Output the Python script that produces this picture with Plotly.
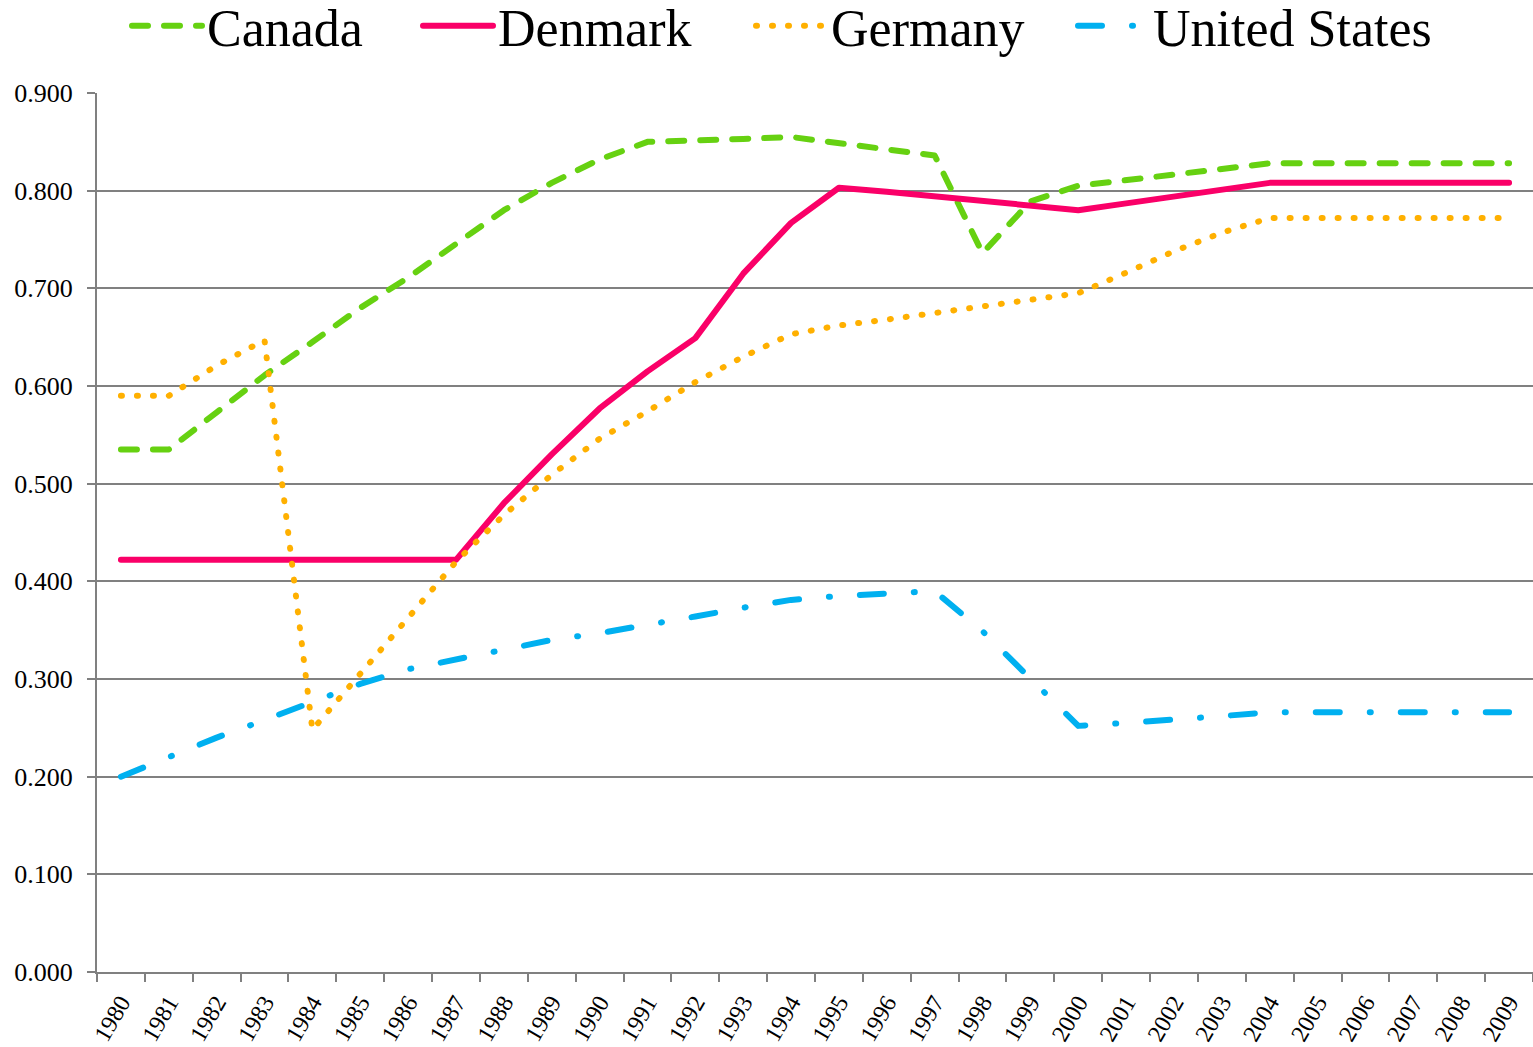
import plotly.graph_objects as go

years = ["1980", "1981", "1982", "1983", "1984", "1985", "1986", "1987", "1988", "1989",
         "1990", "1991", "1992", "1993", "1994", "1995", "1996", "1997", "1998", "1999",
         "2000", "2001", "2002", "2003", "2004", "2005", "2006", "2007", "2008", "2009"]

canada = [0.535, 0.535, 0.573, 0.611, 0.645, 0.680, 0.711, 0.746, 0.780, 0.808,
          0.832, 0.850, 0.851, 0.853, 0.855, 0.849, 0.843, 0.836, 0.736, 0.789,
          0.805, 0.811, 0.817, 0.823, 0.828, 0.828, 0.828, 0.828, 0.828, 0.828]

denmark = [0.422, 0.422, 0.422, 0.422, 0.422, 0.422, 0.422, 0.422, 0.480, 0.530,
           0.577, 0.615, 0.649, 0.715, 0.767, 0.803, 0.799, 0.794, 0.790, 0.785,
           0.780, 0.787, 0.794, 0.801, 0.808, 0.808, 0.808, 0.808, 0.808, 0.808]

germany = [0.590, 0.590, 0.621, 0.647, 0.248, 0.305, 0.362, 0.420, 0.468, 0.509,
           0.546, 0.574, 0.604, 0.630, 0.653, 0.662, 0.668, 0.675, 0.682, 0.689,
           0.695, 0.716, 0.738, 0.757, 0.772, 0.772, 0.772, 0.772, 0.772, 0.772]

united_states = [0.200, 0.220, 0.240, 0.258, 0.277, 0.295, 0.310, 0.320, 0.331, 0.340,
                 0.347, 0.355, 0.364, 0.373, 0.381, 0.385, 0.388, 0.390, 0.349, 0.301,
                 0.252, 0.255, 0.258, 0.262, 0.266, 0.266, 0.266, 0.266, 0.266, 0.266]

series = [
    ("Canada", canada, "#66D111", "16px,16px", "legend"),
    ("Denmark", denmark, "#FA0068", "solid", "legend2"),
    ("Germany", germany, "#FFB000", "1px,15px", "legend3"),
    ("United States", united_states, "#00B0F0", "24px,30px,1px,30px", "legend4"),
]

fig = go.Figure()
for name, vals, color, dash, leg in series:
    fig.add_trace(go.Scatter(
        x=years, y=vals, name=name, mode="lines",
        line=dict(color=color, width=6, dash=dash),
        legend=leg,
    ))

FONT = "Liberation Serif"
W, H = 1533, 1047
ML, MR, MT, MB = 97, 0, 93, 75
pw = W - ML - MR
ph = H - MT - MB

def lx(px):
    return (px - ML) / pw

ly = 1 + (MT - 26) / ph

legend_common = dict(
    orientation="h", xanchor="left", yanchor="middle", y=ly,
    font=dict(family=FONT, size=52, color="black"),
    itemwidth=70, bgcolor="rgba(0,0,0,0)", borderwidth=0,
)

fig.update_layout(
    width=W, height=H,
    margin=dict(l=ML, r=MR, t=MT, b=MB, pad=0, autoexpand=False),
    paper_bgcolor="white", plot_bgcolor="white",
    font=dict(family=FONT, color="black"),
    showlegend=True,
    legend=dict(x=lx(127), **legend_common),
    legend2=dict(x=lx(418), **legend_common),
    legend3=dict(x=lx(751), **legend_common),
    legend4=dict(x=lx(1073), **legend_common),
    xaxis=dict(
        type="category", range=[-0.5, 29.5],
        showline=True, linecolor="#808080", linewidth=2,
        ticks="outside", tickson="boundaries", ticklen=8, tickwidth=2, tickcolor="#808080",
        tickangle=-60, tickfont=dict(family=FONT, size=24, color="black"),
        ticklabelstandoff=5,
        showgrid=False, zeroline=False, fixedrange=True, automargin=False,
    ),
    yaxis=dict(
        range=[0, 0.9], dtick=0.1, tick0=0, tickformat=".3f",
        showline=True, linecolor="#808080", linewidth=2,
        ticks="outside", ticklen=8, tickwidth=2, tickcolor="#808080",
        showgrid=True, gridcolor="#808080", gridwidth=2,
        zeroline=False, ticklabelstandoff=9, automargin=False,
        tickfont=dict(family=FONT, size=26, color="black"), fixedrange=True,
    ),
)

post = """
document.body.style.margin = '0';
document.body.style.padding = '0';
document.body.style.overflow = 'hidden';
var gd = document.getElementById('{plot_id}');
gd.querySelectorAll('path.js-line').forEach(function(p){
  p.style.strokeLinecap = 'round';
  p.style.strokeLinejoin = 'round';
});
"""

fig.write_html("out.html", post_script=post, config={"displayModeBar": False})
